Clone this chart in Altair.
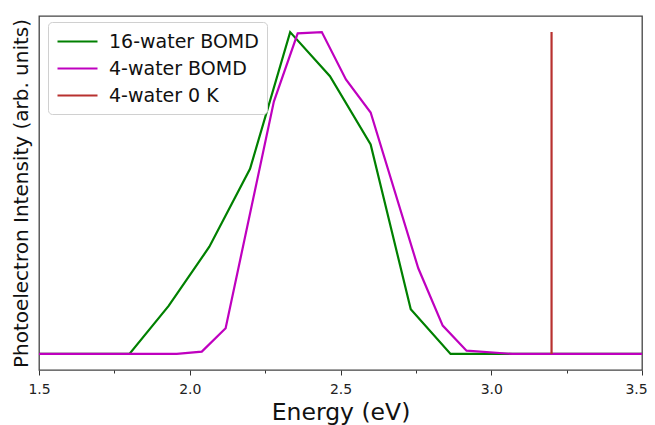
import altair as alt
import pandas as pd

# 16-water BOMD
e16 = [1.50, 1.80, 1.93, 2.065, 2.20, 2.333, 2.465, 2.60, 2.733, 2.865, 3.00, 3.50]
i16 = [0.0, 0.0, 0.149, 0.333, 0.575, 1.0, 0.863, 0.651, 0.139, 0.0, 0.0, 0.0]
# 4-water BOMD
e4 = [1.50, 1.957, 2.04, 2.119, 2.279, 2.358, 2.438, 2.518, 2.600, 2.758, 2.839, 2.918, 3.07, 3.50]
i4 = [0.0, 0.0, 0.007, 0.08, 0.784, 0.996, 1.0, 0.853, 0.75, 0.266, 0.088, 0.010, 0.0, 0.0]
# 4-water 0 K stick
e0 = [3.2, 3.2]
i0 = [0.0, 1.0]

names = ["16-water BOMD", "4-water BOMD", "4-water 0 K"]
colors = ["#008000", "#bf00bf", "#b8312f"]
xticks = [1.5, 1.75, 2.0, 2.25, 2.5, 2.75, 3.0, 3.25, 3.5]

rows = []
for name, xs, ys in zip(names, [e16, e4, e0], [i16, i4, i0]):
    for k, (x, y) in enumerate(zip(xs, ys)):
        rows.append({"series": name, "energy": x, "intensity": y, "k": k})
df = pd.DataFrame(rows)

font = "DejaVu Sans"

chart = alt.Chart(df).mark_line(strokeWidth=2.2).encode(
    x=alt.X("energy:Q",
            scale=alt.Scale(domain=[1.5, 3.5], nice=False, zero=False),
            axis=alt.Axis(title="Energy (eV)", values=xticks,
                          labelExpr="datum.value % 0.5 == 0 ? format(datum.value, '.1f') : ''",
                          tickSize={"condition": {"test": "datum.value % 0.5 == 0", "value": 5}, "value": 3},
                          labelOffset={"condition": {"test": "datum.value >= 3.5", "value": -6}, "value": 0},
                          tickColor="#333", tickWidth=1, domain=False, grid=False,
                          labelFlush=False, labelOverlap=False,
                          labelFont=font, labelFontSize=14, labelColor="#222",
                          labelPadding=7, titleFont=font, titleFontSize=23.5,
                          titleFontWeight="normal", titleColor="#111", titlePadding=4)),
    y=alt.Y("intensity:Q",
            scale=alt.Scale(domain=[-0.05, 1.05], nice=False, zero=False),
            axis=alt.Axis(title="Photoelectron Intensity (arb. units)", ticks=False,
                          labels=False, domain=False, grid=False,
                          titleFont=font, titleFontSize=20, titleFontWeight="normal",
                          titleColor="#111", titlePadding=8)),
    color=alt.Color("series:N",
                    scale=alt.Scale(domain=names, range=colors),
                    legend=alt.Legend(title=None, orient="none", legendX=9, legendY=6,
                                      symbolType="M-1,0H3", symbolSize=400,
                                      symbolStrokeWidth=2.2, symbolFillColor="transparent",
                                      labelOffset=30, labelFont=font, labelFontSize=19,
                                      labelColor="#111", rowPadding=5, padding=8,
                                      strokeColor="#d0d0d0", fillColor="white",
                                      cornerRadius=4)),
    order="k:Q",
).properties(
    width=603, height=354,
    autosize=alt.AutoSizeParams(type="none"),
    padding={"left": 31, "top": 8, "right": 5, "bottom": 55},
).configure_view(stroke="#444", strokeWidth=1.3)

chart.save("out.html", embed_options={"renderer": "svg", "actions": False})
